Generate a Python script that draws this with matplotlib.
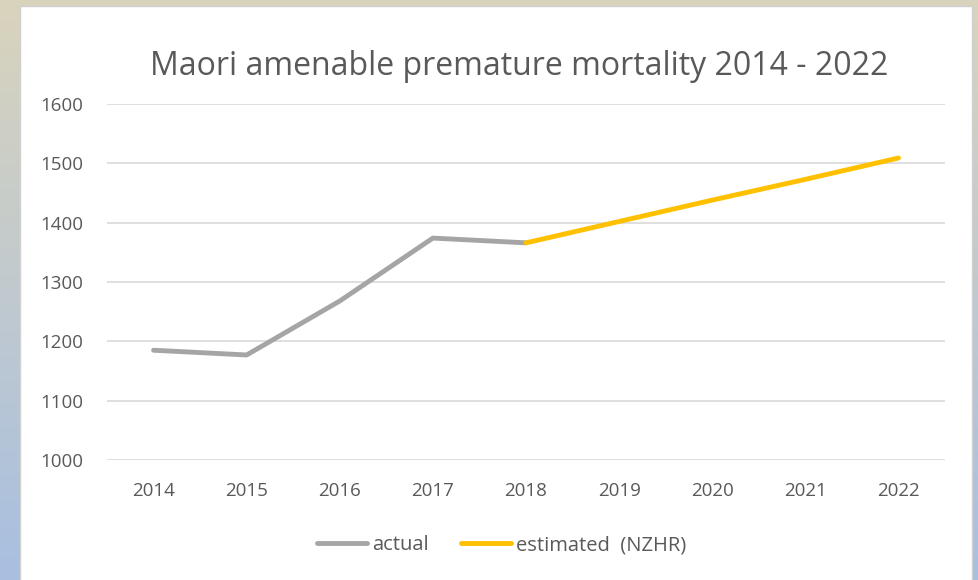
import numpy as np
import matplotlib.pyplot as plt
from matplotlib.patches import Rectangle

years = ["2014", "2015", "2016", "2017", "2018", "2019", "2020", "2021", "2022"]
actual = [1185, 1177, 1268, 1374, 1366]
estimated = [1366, 1402, 1438, 1473, 1509]
yticks = [1000, 1100, 1200, 1300, 1400, 1500, 1600]

plt.rcParams['font.family'] = ['Open Sans', 'DejaVu Sans']
W, H = 979, 580
fig = plt.figure(figsize=(W / 100, H / 100), dpi=100)

# gradient background (beige top -> blue bottom)
bg = fig.add_axes([0, 0, 1, 1])
top = np.array([0.85, 0.83, 0.74])
bot = np.array([0.66, 0.75, 0.88])
t = np.linspace(0, 1, 200)[:, None]
grad = top * (1 - t) + bot * t
bg.imshow(grad[:, None, :], aspect='auto', extent=[0, W, H, 0])
bg.add_patch(Rectangle((20, 6), 952, 580, facecolor='white', edgecolor='#d0d0d0', lw=1))
bg.set_xlim(0, W)
bg.set_ylim(H, 0)
bg.axis('off')

ax = fig.add_axes([107 / W, 1 - 460 / H, (945 - 107) / W, (460 - 104) / H])
ax.set_facecolor('none')
x = np.arange(len(years))
ax.plot(x[:5], actual, color='#a5a5a5', lw=3.5, solid_capstyle='round', label='actual')
ax.plot(x[4:], estimated, color='#ffc000', lw=3.5, solid_capstyle='round', label='estimated  (NZHR)')

ax.set_xlim(-0.5, len(years) - 0.5)
ax.set_ylim(1000, 1600)
ax.set_yticks(yticks)
ax.set_xticks(x)
ax.set_xticklabels(years)
ax.grid(axis='y', color='#d9d9d9', lw=1.2)
ax.set_axisbelow(True)
for s in ax.spines.values():
    s.set_visible(False)
ax.tick_params(length=0, colors='#595959', labelsize=13.5)
ax.tick_params(axis='y', pad=17)
ax.tick_params(axis='x', pad=16)

fig.text(519 / W, 1 - 75 / H, "Maori amenable premature mortality 2014 - 2022",
         ha='center', va='baseline', fontsize=23, color='#595959')

ax.legend(loc='center', bbox_to_anchor=(0.471, -0.24), ncol=2, frameon=False,
          fontsize=14.5, labelcolor='#595959', handlelength=2.5, handletextpad=0.25,
          columnspacing=1.6)

fig.savefig('out.png', dpi=100)
